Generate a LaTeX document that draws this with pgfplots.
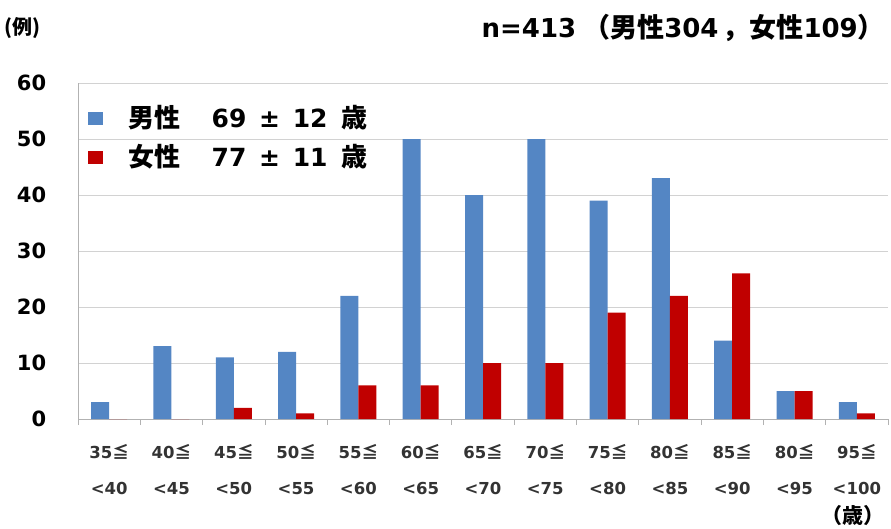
\documentclass[border=0pt]{standalone}
\usepackage{fontspec}
\setmainfont{DejaVu Sans}
\newfontfamily\jp{Noto Sans CJK JP}
\usepackage{pgfplots}
\pgfplotsset{compat=1.18}
\definecolor{mblue}{RGB}{84,134,196}
\definecolor{fred}{RGB}{192,0,0}
\newcommand{\J}[1]{{\jp\fontsize{26}{30}\selectfont #1}}
\newcommand{\K}[1]{{\jp\fontsize{27}{30}\selectfont #1}}
\begin{document}
\begin{tikzpicture}
\path[use as bounding box] (0pt,0pt) rectangle (891pt,-529pt);
\node[anchor=west,font=\fontsize{20}{22}\selectfont\bfseries\jp,inner sep=0pt] at (4pt,-28pt) {(例)};
\node[anchor=east,font=\fontsize{26}{28}\selectfont\bfseries,inner sep=0pt] at (885pt,-28pt) {n=413\hspace{7pt}\K{（男性}304\hspace{4pt}\K{，女性}109\K{）}};
\begin{axis}[
  at={(78pt,-419pt)}, anchor=south west,
  scale only axis, width=810pt, height=336pt,
  ybar, bar width=18pt,
  xmin=-0.5, xmax=12.5, ymin=0, ymax=60,
  ytick={0,10,...,60},
  xtick={0,...,12},
  xticklabels={
    35{\jp ≦}\\<40, 40{\jp ≦}\\<45, 45{\jp ≦}\\<50, 50{\jp ≦}\\<55,
    55{\jp ≦}\\<60, 60{\jp ≦}\\<65, 65{\jp ≦}\\<70, 70{\jp ≦}\\<75,
    75{\jp ≦}\\<80, 80{\jp ≦}\\<85, 85{\jp ≦}\\<90, 80{\jp ≦}\\<95,
    95{\jp ≦}\\<100},
  major x tick style={draw=none},
  minor xtick={-0.5,0.5,...,12.5},
  minor tick length=6pt,
  tick align=outside,
  minor x tick style={gray!60, line width=0.8pt},
  major y tick style={draw=none},
  ymajorgrids, grid style={gray!35, line width=0.8pt},
  axis x line*=bottom, axis y line*=left,
  axis line style={gray!60, line width=0.8pt},
  x axis line style={-}, y axis line style={-},
  /pgf/number format/assume math mode=true,
  yticklabel style={font=\fontsize{21}{24}\selectfont\bfseries, xshift=-24pt},
  xticklabel style={font=\fontsize{16.5}{36}\selectfont\bfseries, text=black!80, align=center, yshift=-18pt},
  legend style={at={(0.008,0.947)}, anchor=north west, draw=none, fill=none,
    font=\fontsize{25}{28}\selectfont\bfseries, row sep=11pt,
    legend cell align=left},
  legend image code/.code={\fill[#1] (0pt,-8pt) rectangle (15pt,5pt);},
]
\addplot[fill=mblue, draw=none, bar shift=-9pt] coordinates {
(0,3) (1,13) (2,11) (3,12) (4,22) (5,50) (6,40) (7,50) (8,39) (9,43) (10,14) (11,5) (12,3)};
\addlegendentry{\hspace{24pt}\J{男性}\hspace{31pt}69\hspace{4pt} ±\hspace{4pt} 12\hspace{5pt} \J{歳}}
\addplot[fill=fred, draw=none, bar shift=9pt] coordinates {
(0,0) (1,0) (2,2) (3,1) (4,6) (5,6) (6,10) (7,10) (8,19) (9,22) (10,26) (11,5) (12,1)};
\addlegendentry{\hspace{24pt}\J{女性}\hspace{31pt}77\hspace{4pt} ±\hspace{4pt} 11\hspace{5pt} \J{歳}}
\end{axis}
\node[anchor=east,font=\fontsize{21}{22}\selectfont\bfseries\jp,inner sep=0pt] at (885pt,-516pt) {（歳）};
\end{tikzpicture}
\end{document}
